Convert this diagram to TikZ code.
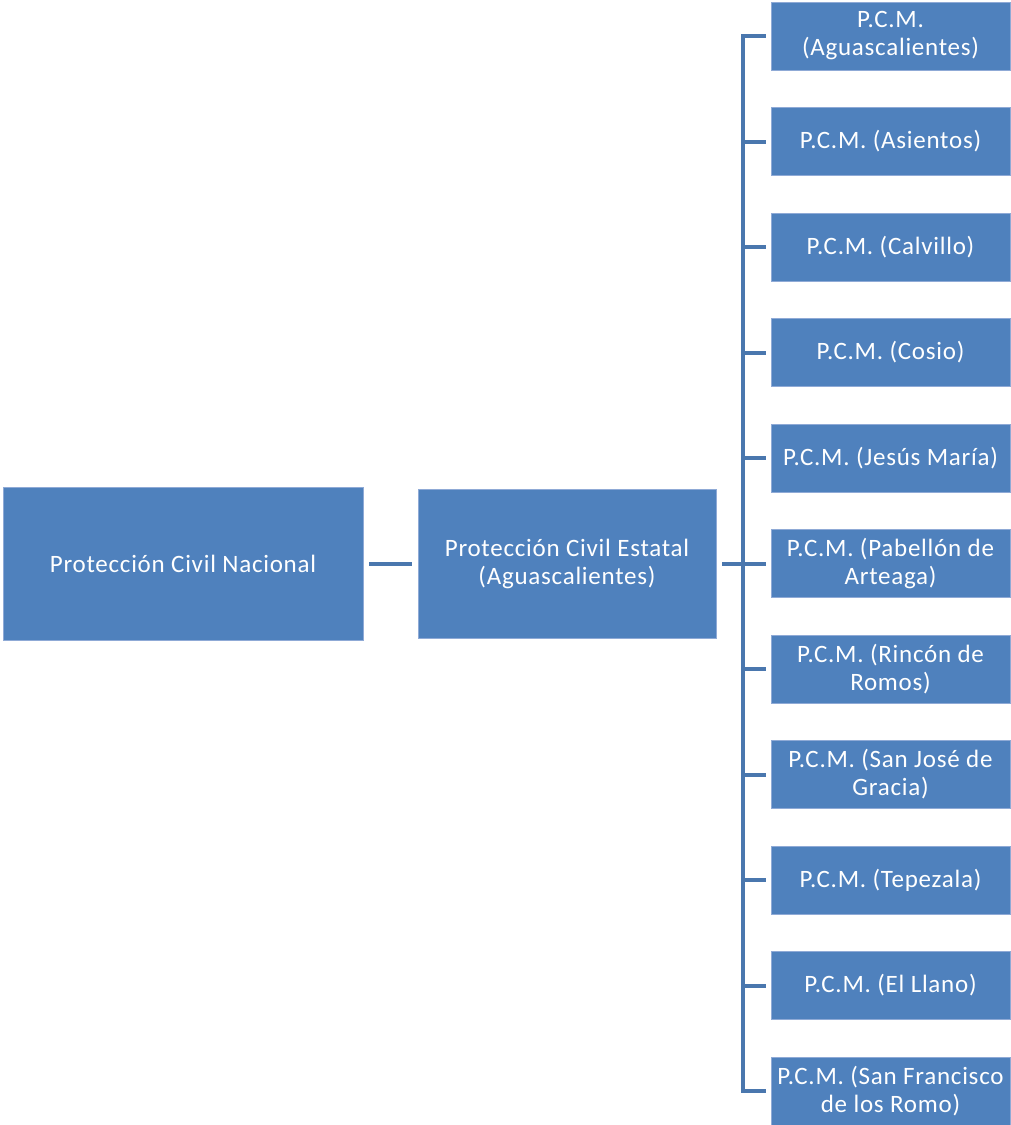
\documentclass[tikz,border=0pt]{standalone}
\usepackage{fontspec}
\setmainfont[LetterSpace=3]{Carlito}
\definecolor{boxblue}{HTML}{4F81BD}
\definecolor{boxedge}{HTML}{8FAAD6}
\definecolor{connblue}{HTML}{4A77AE}
\begin{document}
\begin{tikzpicture}[x=1pt,y=-1pt,
  box/.style={rectangle, fill=boxblue, draw=boxedge, line width=0.6pt, text=white,
    align=center, font=\fontsize{25}{28}\selectfont, inner sep=0pt},
  bigbox/.style={box, minimum width=360pt, minimum height=153pt},
  midbox/.style={box, minimum width=298pt, minimum height=149pt},
  leafbox/.style={box, minimum width=239pt, minimum height=68pt},
  conn/.style={draw=connblue, line width=4pt, line join=miter}]
\useasboundingbox (0,0) rectangle (1010,1125);
\node[bigbox] (nac) at (183,563.5) {Protección Civil Nacional};
\node[midbox] (est) at (567,563.5) {Protección Civil Estatal\\(Aguascalientes)};
\node[leafbox] (c1) at (890.5,36) {P.C.M.\\(Aguascalientes)};
\node[leafbox] (c2) at (890.5,141.5) {P.C.M. (Asientos)};
\node[leafbox] (c3) at (890.5,247) {P.C.M. (Calvillo)};
\node[leafbox] (c4) at (890.5,352.5) {P.C.M. (Cosio)};
\node[leafbox] (c5) at (890.5,458) {P.C.M. (Jesús María)};
\node[leafbox] (c6) at (890.5,563.5) {P.C.M. (Pabellón de\\Arteaga)};
\node[leafbox] (c7) at (890.5,669) {P.C.M. (Rincón de\\Romos)};
\node[leafbox] (c8) at (890.5,774.5) {P.C.M. (San José de\\Gracia)};
\node[leafbox] (c9) at (890.5,880) {P.C.M. (Tepezala)};
\node[leafbox] (c10) at (890.5,985.5) {P.C.M. (El Llano)};
\node[leafbox] (c11) at (890.5,1091) {P.C.M. (San Francisco\\de los Romo)};
\coordinate (spine) at (743,563.5);
\draw[conn, shorten <=6pt, shorten >=6pt] (nac.east) -- (est.west);
\draw[conn, shorten <=6pt] (est.east) -- (spine);
\draw[conn, shorten <=5pt, shorten >=5pt] (c1.west) -- (spine |- c1.west) -- (spine |- c11.west) -- (c11.west);
\foreach \c in {c2,c3,c4,c5,c6,c7,c8,c9,c10}
  \draw[conn, shorten >=5pt] (spine |- \c.west) -- (\c.west);
\end{tikzpicture}
\end{document}
